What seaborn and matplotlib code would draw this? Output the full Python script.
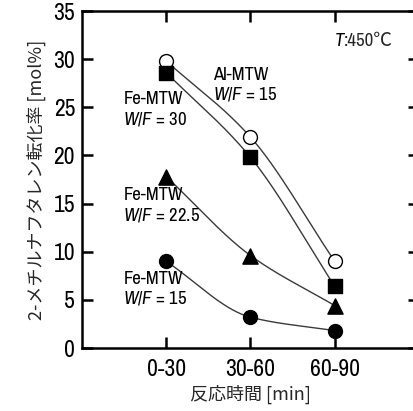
import numpy as np
import pandas as pd
import matplotlib
matplotlib.use("Agg")
import matplotlib.pyplot as plt
from matplotlib import font_manager
import seaborn as sns

# Reaction-time windows and conversion of 2-methylnaphthalene [mol%]
periods = ["0-30", "30-60", "60-90"]
al_wf15 = [29.8, 21.9, 9.0]      # Al-MTW, W/F = 15 (open circles)
fe_wf30 = [28.6, 19.8, 6.4]      # Fe-MTW, W/F = 30 (squares)
fe_wf225 = [17.8, 9.6, 4.4]      # Fe-MTW, W/F = 22.5 (triangles)
fe_wf15 = [9.0, 3.2, 1.8]        # Fe-MTW, W/F = 15 (circles)
y_ticks = [0, 5, 10, 15, 20, 25, 30, 35]

sns.set_theme(style="white")
names = {f.name for f in font_manager.fontManager.ttflist}
latin = next(n for n in ["Liberation Sans Narrow", "Archivo Narrow", "Roboto Condensed",
                         "Liberation Sans"] if n in names)
cjk = "Noto Sans CJK JP"
plt.rcParams["font.family"] = [latin, cjk, "DejaVu Sans"]
plt.rcParams["mathtext.fontset"] = "custom"
plt.rcParams["mathtext.rm"] = latin
plt.rcParams["mathtext.it"] = latin + ":italic"


def monotone_curve(xk, yk, n=200):
    """Fritsch-Carlson monotone cubic through the given points."""
    xk = np.asarray(xk, float)
    yk = np.asarray(yk, float)
    h = np.diff(xk)
    d = np.diff(yk) / h
    m = np.zeros_like(yk)
    m[0], m[-1] = d[0], d[-1]
    for i in range(1, len(yk) - 1):
        if d[i - 1] * d[i] > 0:
            m[i] = 2 / (1 / d[i - 1] + 1 / d[i])
    xs = np.linspace(xk[0], xk[-1], n)
    idx = np.clip(np.searchsorted(xk, xs) - 1, 0, len(h) - 1)
    t = (xs - xk[idx]) / h[idx]
    h00 = 2 * t**3 - 3 * t**2 + 1
    h10 = t**3 - 2 * t**2 + t
    h01 = -2 * t**3 + 3 * t**2
    h11 = t**3 - t**2
    ys = (h00 * yk[idx] + h10 * h[idx] * m[idx]
          + h01 * yk[idx + 1] + h11 * h[idx] * m[idx + 1])
    return xs, ys


fig = plt.figure(figsize=(4.14, 4.11), dpi=100)
ax = fig.add_axes([82 / 414, 63 / 411, 337 / 414, 337 / 411])

x = np.arange(len(periods))
series = [
    (al_wf15, "o", "white", 100),
    (fe_wf30, "s", "black", 105),
    (fe_wf225, "^", "black", 120),
    (fe_wf15, "o", "black", 100),
]

for vals, marker, face, size in series:
    xs, ys = monotone_curve(x, vals)
    ax.plot(xs, ys, color="#3a3a3a", lw=1.0, zorder=1)
    df = pd.DataFrame({"t": x, "conv": vals})
    sns.scatterplot(data=df, x="t", y="conv", marker=marker, s=size,
                    color=face, edgecolor="black", linewidth=1.0, zorder=3, ax=ax)

ax.set_xlim(-1, 3)
ax.set_ylim(0, 35)
ax.set_xticks(x)
ax.set_xticklabels(periods)
ax.set_yticks(y_ticks)
ax.set_xlabel("反応時間 [min]", fontsize=13, family=[cjk], labelpad=3)
ax.set_ylabel("2-メチルナフタレン転化率 [mol%]", fontsize=13, family=[cjk], labelpad=5)

for sp in ax.spines.values():
    sp.set_visible(True)
    sp.set_color("black")
    sp.set_linewidth(1.8)
ax.tick_params(axis="both", direction="in", length=8, width=1.8, colors="black",
               labelsize=17, top=True, right=True, bottom=True, left=True, pad=5)
ax.tick_params(axis="x", pad=8)

fs = 13.5
tkw = dict(fontsize=fs, va="center", ha="left", color="black")
t_lbl = ax.text(2.0, (348 - 41) / 9.63, "T", style="italic", **tkw)
ax.annotate(":450℃", xy=(1, 0.5), xycoords=t_lbl, va="center", ha="left",
            fontsize=fs, family=[latin, cjk])
ax.text(0.56, (348 - 74.5) / 9.63, "Al-MTW", **tkw)
ax.text(0.56, (348 - 93.5) / 9.63, "$W$/$F$ = 15", **tkw)
ax.text(-0.51, (348 - 99) / 9.63, "Fe-MTW", **tkw)
ax.text(-0.51, (348 - 118.5) / 9.63, "$W$/$F$ = 30", **tkw)
ax.text(-0.51, (348 - 195) / 9.63, "Fe-MTW", **tkw)
ax.text(-0.51, (348 - 215) / 9.63, "$W$/$F$ = 22.5", **tkw)
ax.text(-0.51, (348 - 279) / 9.63, "Fe-MTW", **tkw)
ax.text(-0.51, (348 - 298) / 9.63, "$W$/$F$ = 15", **tkw)

fig.savefig("out.png", dpi=100)
